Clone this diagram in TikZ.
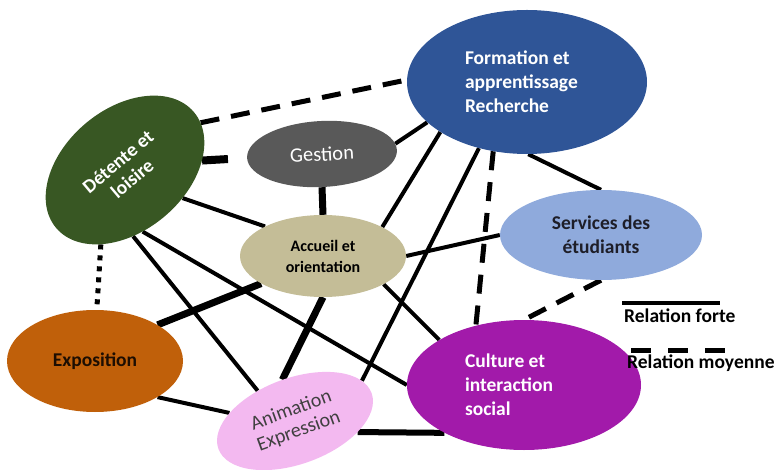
\documentclass[tikz,border=0pt]{standalone}
\usepackage{fontspec}
\setmainfont{Carlito}
\usetikzlibrary{shapes.geometric, backgrounds}

\definecolor{formbleu}{RGB}{47,85,151}
\definecolor{detvert}{RGB}{56,87,35}
\definecolor{gestgris}{RGB}{89,89,89}
\definecolor{acctan}{RGB}{196,189,151}
\definecolor{servbleu}{RGB}{143,170,220}
\definecolor{expoorange}{RGB}{192,96,10}
\definecolor{cultviolet}{RGB}{162,26,170}
\definecolor{animrose}{RGB}{243,185,240}
\definecolor{textfonce}{RGB}{30,30,40}

\begin{document}
\begin{tikzpicture}[
    x=1pt, y=1pt,
    bulle/.style={ellipse, inner sep=0pt, align=center,
                  font=\fontsize{19.5}{24}\selectfont\bfseries},
    lien/.style={line width=4pt},
    fort/.style={line width=7pt},
    moyen/.style={line width=5pt, dash pattern=on 19pt off 12pt},
    pointille/.style={line width=5pt, dash pattern=on 5pt off 6pt},
    legende/.style={font=\fontsize{19.5}{21}\selectfont\bfseries, inner sep=0pt},
]
    \useasboundingbox (0,0) rectangle (776,-470);

    %==================== POLES ====================
    \node[bulle, fill=formbleu, text=white, align=flush left, text width=124,
          minimum width=240, minimum height=144] (form) at (527,-82)
        {Formation et\\apprentissage\\Recherche};
    \node[bulle, fill=detvert, text=white, rotate=40, minimum width=180,
          minimum height=122, font=\fontsize{19.5}{22}\selectfont\bfseries] (det)
        at (125,-170) {D\'etente et\\loisire};
    \node[bulle, fill=gestgris, text=white, rotate=3, minimum width=150,
          minimum height=66, font=\fontsize{20.5}{22}\selectfont] (gest) at (322,-154)
        {Gestion};
    \node[bulle, fill=acctan, text=black, minimum width=166, minimum height=82,
          font=\fontsize{16}{21}\selectfont\bfseries] (acc) at (323,-256)
        {Accueil et\\orientation};
    \node[bulle, fill=servbleu, text=textfonce, minimum width=202,
          minimum height=90] (serv) at (601,-235) {Services des\\\'etudiants};
    \node[bulle, fill=expoorange, text=black!85!expoorange, minimum width=176,
          minimum height=102] (expo) at (95,-361) {Exposition};
    \node[bulle, fill=cultviolet, text=white, align=flush left, text width=118,
          minimum width=234, minimum height=130] (cult) at (524,-385)
        {Culture et\\interaction\\social};
    \node[bulle, fill=animrose, text=black!75, rotate=20, minimum width=163,
          minimum height=86, font=\fontsize{20}{22}\selectfont] (anim) at (295,-421)
        {Animation\\Expression};

    %==================== RELATIONS ====================
    \begin{scope}[on background layer]
        \draw[moyen] (det.-8) -- (form.179);
        \draw[fort, line width=8pt, shorten >=19pt] (det.-33) -- (gest.180);
        \draw[pointille] (det.212) -- (expo.88);
        \draw[lien] (det.-66) -- (acc.153);
        \draw[lien] (det.-123) -- (anim.121);
        \draw[lien] (det.-114) -- (cult.180);
        \draw[fort] (gest.-93) -- (acc.90);
        \draw[lien] (gest.5) -- (form.202);
        \draw[lien] (form.210) -- (acc.26);
        \draw[lien] (form.234) -- (anim.11);
        \draw[moyen] (form.244) -- (cult.129);
        \draw[lien] (form.-89) -- (serv.90);
        \draw[lien] (acc.0) -- (serv.180);
        \draw[fort] (acc.204) -- (expo.30);
        \draw[fort] (acc.-90) -- (anim.87);
        \draw[lien] (acc.-25) -- (cult.152);
        \draw[moyen] (serv.-90) -- (cult.90);
        \draw[lien] (expo.-30) -- (anim.153);
        \draw[fort, line width=6pt] (anim.-30) -- (cult.211);
    \end{scope}

    %==================== LEGENDE ====================
    \node[legende, anchor=west] (lgf) at (624,-316) {Relation forte};
    \node[legende, anchor=west] (lgm) at (627,-363) {Relation moyenne};
    \coordinate (lf1) at (622,-303);
    \coordinate (lf2) at (720,-303);
    \coordinate (lm1) at (631,-350);
    \coordinate (lm2) at (728,-350);
    \draw[lien] (lf1) -- (lf2);
    \draw[line width=5pt, dash pattern=on 20pt off 17pt] (lm1) -- (lm2);

\end{tikzpicture}
\end{document}
